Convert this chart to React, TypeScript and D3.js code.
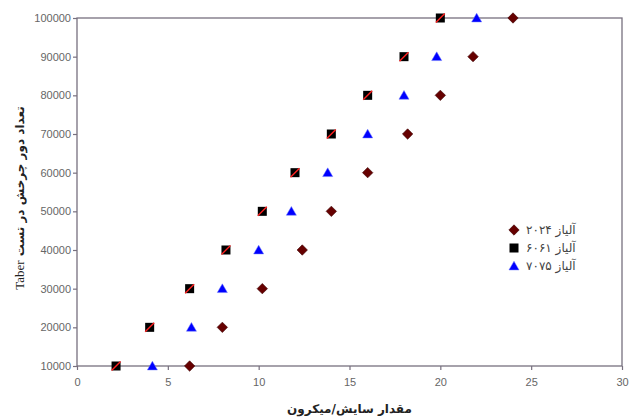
import React, { useEffect, useRef } from 'react';
import * as d3 from 'd3';

// rounds of the Taber test (y) and wear in microns (x) per alloy
const cycles = [10000, 20000, 30000, 40000, 50000, 60000, 70000, 80000, 90000, 100000];
const wear2024 = [6.2, 8.0, 10.2, 12.4, 14.0, 16.0, 18.2, 20.0, 21.8, 24.0];
const wear6061 = [2.15, 4.0, 6.2, 8.2, 10.2, 12.0, 14.0, 16.0, 18.0, 20.0];
const wear7075 = [4.15, 6.3, 8.0, 10.0, 11.8, 13.8, 16.0, 18.0, 19.8, 22.0];
const xTicks = [0, 5, 10, 15, 20, 25, 30];
const legendLabels = ['آلیاز ۲۰۲۴', 'آلیاز ۶۰۶۱', 'آلیاز ۷۰۷۵'];

const App = () => {
  const svgRef = useRef<SVGSVGElement>(null);

  useEffect(() => {
    const svg = d3.select(svgRef.current);
    svg.selectAll('*').remove();

    const width = 630;
    const height = 419;
    const left = 77;
    const right = 622;
    const top = 18;
    const bottom = 366;
    const axisColor = '#77707f';
    const labelColor = '#666';

    svg.attr('width', width).attr('height', height);

    const x = d3.scaleLinear().domain([0, 30]).range([left, right]);
    const y = d3.scaleLinear().domain([10000, 100000]).range([bottom, top]);

    // frame
    svg.append('rect')
      .attr('x', left).attr('y', top)
      .attr('width', right - left).attr('height', bottom - top)
      .attr('fill', 'none')
      .attr('stroke', axisColor)
      .attr('stroke-width', 1.3);

    // x axis
    const xAxis = svg.append('g')
      .attr('transform', `translate(0,${bottom})`)
      .call(d3.axisBottom(x).tickValues(xTicks).tickSize(4).tickPadding(8));
    xAxis.select('.domain').remove();
    xAxis.selectAll('line').attr('stroke', axisColor).attr('stroke-width', 1.2);
    xAxis.selectAll('text')
      .attr('fill', labelColor)
      .attr('font-size', 11)
      .attr('font-family', 'Liberation Sans, Arial, sans-serif');

    // y axis
    const yAxis = svg.append('g')
      .attr('transform', `translate(${left},0)`)
      .call(d3.axisLeft(y).tickValues(cycles).tickSize(4).tickPadding(2).tickFormat(d3.format('d')));
    yAxis.select('.domain').remove();
    yAxis.selectAll('line').attr('stroke', axisColor).attr('stroke-width', 1.2);
    yAxis.selectAll('text')
      .attr('fill', labelColor)
      .attr('font-size', 11)
      .attr('font-family', 'Liberation Sans, Arial, sans-serif');

    // axis titles
    svg.append('text')
      .attr('x', (left + right) / 2)
      .attr('y', 413)
      .attr('text-anchor', 'middle')
      .attr('font-size', 12)
      .attr('font-weight', 'bold')
      .attr('fill', '#222')
      .attr('font-family', 'DejaVu Sans, sans-serif')
      .text('مقدار سایش/میکرون');

    const yTitle = svg.append('text')
      .attr('transform', `translate(24,${(top + bottom) / 2 + 6}) rotate(-90)`)
      .attr('text-anchor', 'middle')
      .attr('direction', 'rtl')
      .attr('font-size', 12)
      .attr('fill', '#222');
    yTitle.append('tspan')
      .attr('font-weight', 'bold')
      .attr('font-family', 'DejaVu Sans, sans-serif')
      .text('تعداد دور چرخش در تست ');
    yTitle.append('tspan')
      .attr('font-family', 'Liberation Serif, Times New Roman, serif')
      .attr('font-size', 13)
      .text('Taber');

    const triangle = d3.symbol().type(d3.symbolTriangle).size(44);
    const sq = 9;
    const dr = 5.2; // half diagonal of diamond

    const drawDiamond = (g: any, cx: number, cy: number) => {
      g.append('path')
        .attr('d', `M${cx},${cy - dr}L${cx + dr},${cy}L${cx},${cy + dr}L${cx - dr},${cy}Z`)
        .attr('fill', '#660000')
        .attr('stroke', '#3a0000')
        .attr('stroke-width', 0.6);
    };
    const drawSquare = (g: any, cx: number, cy: number, slash: boolean) => {
      g.append('rect')
        .attr('x', cx - sq / 2).attr('y', cy - sq / 2)
        .attr('width', sq).attr('height', sq)
        .attr('fill', '#000');
      if (slash) {
        g.append('line')
          .attr('x1', cx - sq / 2).attr('y1', cy + sq / 2)
          .attr('x2', cx + sq / 2).attr('y2', cy - sq / 2)
          .attr('stroke', '#ff2020')
          .attr('stroke-width', 1.4);
      }
    };
    const drawTriangle = (g: any, cx: number, cy: number) => {
      g.append('path')
        .attr('d', triangle())
        .attr('transform', `translate(${cx},${cy + 1})`)
        .attr('fill', '#0000ff')
        .attr('stroke', '#6a78ff')
        .attr('stroke-width', 0.5);
    };

    const marks = svg.append('g');
    cycles.forEach((c, i) => {
      drawDiamond(marks, x(wear2024[i]), y(c));
      drawSquare(marks, x(wear6061[i]), y(c), true);
      drawTriangle(marks, x(wear7075[i]), y(c));
    });

    // legend
    const legend = svg.append('g');
    const lx = 514;
    const ly = [230, 248, 266];
    drawDiamond(legend, lx, ly[0]);
    drawSquare(legend, lx, ly[1], false);
    drawTriangle(legend, lx, ly[2]);
    legend.selectAll('text')
      .data(legendLabels)
      .join('text')
      .attr('x', 526)
      .attr('y', (d, i) => ly[i] + 4)
      .attr('font-size', 12)
      .attr('fill', '#444')
      .attr('font-family', 'DejaVu Sans, sans-serif')
      .text(d => d);
  }, []);

  return <svg ref={svgRef} style={{ position: 'absolute', left: 0, top: 0 }} />;
};

export default App;
